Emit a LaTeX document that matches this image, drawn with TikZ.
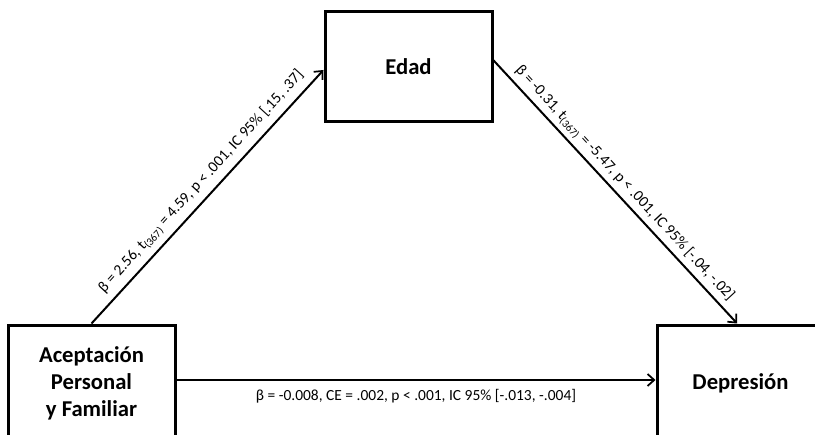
\documentclass[tikz,border=0pt]{standalone}
\usepackage{fontspec}
\setmainfont{Carlito}
\usetikzlibrary{arrows.meta}
\tikzset{
  box/.style={draw, line width=2.25pt, minimum width=125.25pt, minimum height=87pt,
    font=\bfseries\fontsize{17}{20.25}\selectfont, align=center, inner sep=0pt},
  conn/.style={line width=1.5pt, -{Straight Barb[length=5pt,width=9pt,line width=1.3pt]}},
  lbl/.style={font=\fontsize{11.6}{13}\selectfont, inner sep=2pt}
}
\begin{document}
\begin{tikzpicture}[x=0.75pt,y=-0.75pt]
\path[use as bounding box] (0,0) rectangle (815,435);
\clip (0,0) rectangle (815,435);
\node[box, minimum height=82.5pt] (edad) at (408.5,67) {Edad};
\node[box] (apf) at (91.5,383) {Aceptación\\Personal\\y Familiar};
\node[box] (dep) at (740.5,383) {Depresión};
\draw[conn] (apf.north) -- node[lbl, sloped, above=2.5pt, pos=0.52] {β = 2.56, t\textsubscript{(367)} = 4.59, p < .001, IC 95\% [.15, .37]} ([yshift=-2.25pt]edad.west);
\draw[conn] ([yshift=5pt]edad.east) -- node[lbl, sloped, above=1pt, pos=0.5] {β = -0.31, t\textsubscript{(367)} = -5.47, p < .001, IC 95\% [-.04, -.02]} ([xshift=-2.5pt]dep.north);
\draw[conn] ([yshift=2.25pt]apf.east) -- node[lbl, below=4.5pt] {β = -0.008, CE = .002, p < .001, IC 95\% [-.013, -.004]} ([yshift=2.25pt]dep.west);
\end{tikzpicture}
\end{document}
